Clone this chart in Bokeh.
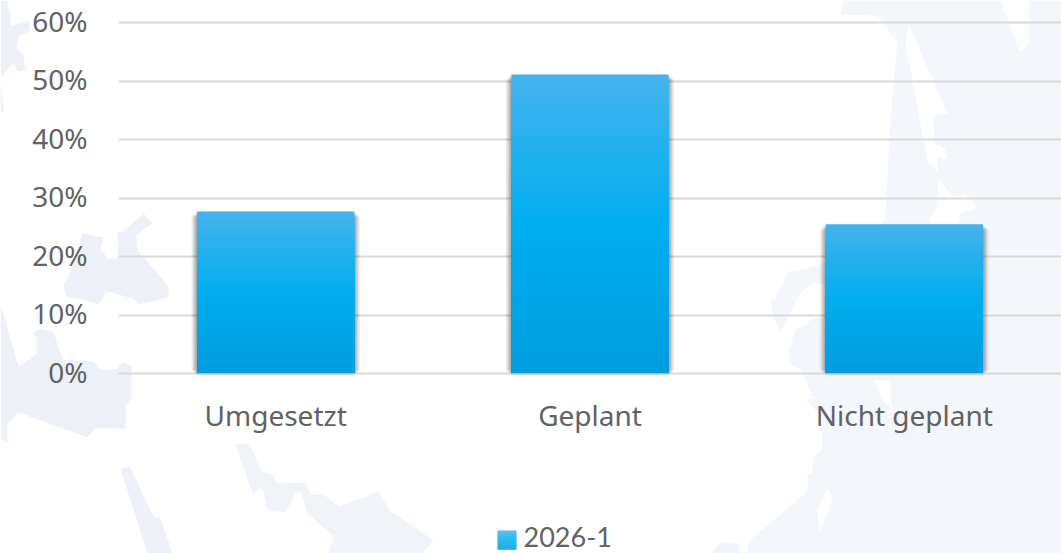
from bokeh.plotting import figure
from bokeh.models import Range1d, FixedTicker, PolyAnnotation, Label
from bokeh.embed import file_html
from bokeh.resources import INLINE

categories = ["Umgesetzt", "Geplant", "Nicht geplant"]
series_name = "2026-1"
series_values = [27.7, 51.1, 25.5]
y_ticks = [0, 10, 20, 30, 40, 50, 60]

FONT = "Noto Sans"
LEGEND_FONT = "Lato"
TEXT = "#626262"
W, H = 1061, 553
PLOT_L, PLOT_T, PLOT_B = 118, 22, 373   # pixel box of the value area

# faint decorative map behind the chart (canvas pixels)
map_left = [
    [(0,0),(7,0),(11,25),(30,20),(28,32),(18,35),(16,48),(23,55),(25,70),(17,71),(13,62),(0,78),(3,112),(0,112)],
    [(68,276),(82,233),(103,237),(100,248),(107,258),(117,258),(117,232),(124,230),(143,213),(152,223),(136,235),(137,250),(160,276),
     (168,286),(168,297),(138,304),(132,298),(107,291),(97,304),(87,300),(65,296),(63,284)],
    [(0,303),(18,366),(36,354),(36,336),(32,334),(38,328),(53,331),(62,359),(93,361),(100,369),(115,369),(122,362),(131,365),
     (131,399),(125,406),(125,428),(95,428),(87,437),(18,412),(7,424),(7,443),(0,438)],
    [(120,469),(129,465),(153,516),(160,518),(172,553),(147,553)],
]
map_mid = [
    [(234,443),(249,444),(262,471),(272,474),(277,483),(305,482),(310,493),(323,494),(339,506),(378,491),(390,511),(400,517),
     (433,540),(422,553),(328,553),(333,536),(307,513),(300,491),(295,493),(285,512),(267,510),(263,491),(258,488),(253,496)],
    [(712,553),(719,542),(739,543),(739,553)],
]
map_right = [
    [(843,0),(840,14),(877,15),(897,42),(893,80),(884,217),(880,226),(830,226),(830,316),(812,318),(803,326),(795,329),(788,351),
     (790,364),(800,369),(813,398),(805,399),(821,416),(821,449),(812,458),(812,473),(807,474),(807,491),(748,541),(747,553),
     (1061,553),(1061,0)],
    [(788,271),(799,270),(826,262),(826,283),(813,283),(805,288),(797,298),(780,333),(772,313),(770,299),(775,298)],
]
map_holes = [
    [(908,23),(905,42),(927,160),(938,173),(937,157),(947,159),(944,148),(933,143),(933,115),(947,113)],
    [(938,178),(953,197),(965,193),(977,208),(959,213),(958,224),(929,224),(930,217),(937,207)],
    [(1000,0),(1020,52),(1028,43),(1028,0)],
    [(873,379),(890,381),(891,408),(882,399)],
    [(827,488),(832,499),(819,533),(817,509)],
]

n = len(categories)
px_per_cat = (W - PLOT_L) / n
px_per_val = (PLOT_B - PLOT_T) / 60
x_pos = [i + 0.5 for i in range(n)]

p = figure(
    width=W, height=H,
    x_range=Range1d(-PLOT_L / px_per_cat, n),
    y_range=Range1d(-(H - PLOT_B) / px_per_val, 60 + PLOT_T / px_per_val),
    output_backend="svg", toolbar_location=None, min_border=0,
    background_fill_color="white", border_fill_color="white", outline_line_color=None,
)
p.styles = {"position": "absolute", "left": "0px", "top": "0px"}

for shapes, col in ((map_left, "#edf1f7"), (map_mid, "#f0f3f8"), (map_right, "#f3f6fa"), (map_holes, "#ffffff")):
    for s in shapes:
        p.add_layout(PolyAnnotation(xs=[c[0] for c in s], ys=[c[1] for c in s], xs_units="canvas", ys_units="canvas",
                                    fill_color=col, fill_alpha=1, line_alpha=0, level="image"))

BAR_W = 0.5
FOOT = 0.17   # the bars stop just above the zero line
# soft shadow at the sides and foot of the bars
for lw in (11, 8, 6, 4, 2):
    p.vbar(x=x_pos, bottom=0.6, top=[v - 0.95 for v in series_values], width=BAR_W, fill_alpha=0,
           line_color="#000000", line_alpha=0.08, line_width=lw)

# vertical gradient: overlapping bars from full height down to zero
STOPS = [(0.0, (0x00, 0x9d, 0xdf)), (0.5, (0x00, 0xae, 0xef)), (1.0, (0x46, 0xb3, 0xed))]
def shade(t):
    for (a, ca), (b, cb) in zip(STOPS, STOPS[1:]):
        if t <= b:
            f = (t - a) / (b - a)
            return "#%02x%02x%02x" % tuple(round(u + (v - u) * f) for u, v in zip(ca, cb))
    return "#46b3ed"
N = 60
for i in range(N, 0, -1):
    t = i / N
    p.vbar(x=x_pos, bottom=FOOT, top=[v * t for v in series_values], width=BAR_W, fill_color=shade(t - 0.5 / N), line_color=None)

LABEL_LIFT = 0.3   # small upward nudge of the y labels against their grid lines
y_label_pos = [t + LABEL_LIFT for t in y_ticks]
p.xaxis.fixed_location = 0
p.yaxis.fixed_location = 0
p.xaxis.ticker = FixedTicker(ticks=x_pos)
p.xaxis.major_label_overrides = {x: c for x, c in zip(x_pos, categories)}
p.yaxis.ticker = FixedTicker(ticks=y_label_pos)
p.yaxis.major_label_overrides = {y: f"{t}%" for y, t in zip(y_label_pos, y_ticks)}
p.xgrid.visible = False
p.ygrid.ticker = FixedTicker(ticks=y_ticks)
p.ygrid.grid_line_color = "#d9d9d9"
p.ygrid.grid_line_width = 2
p.ygrid.cross_bounds = (0, n)
for ax in (p.xaxis[0], p.yaxis[0]):
    ax.axis_line_color = None
    ax.major_tick_line_color = None
    ax.minor_tick_line_color = None
    ax.major_tick_out = 0
    ax.major_tick_in = 0
    ax.major_label_text_font = FONT
    ax.major_label_text_font_size = "28px"
    ax.major_label_text_color = TEXT
p.yaxis.major_label_standoff = 31
p.xaxis.major_label_standoff = 22

# legend: gradient key and its label
KEY_L, KEY_R, KEY_T, KEY_B = 497, 516, 530, 549
for y in range(KEY_T, KEY_B):
    t = (KEY_B - y - 0.5) / (KEY_B - KEY_T)
    p.add_layout(PolyAnnotation(xs=[KEY_L, KEY_R, KEY_R, KEY_L], ys=[y, y, y + 1.2, y + 1.2], xs_units="canvas", ys_units="canvas",
                                fill_color=shade(t), fill_alpha=1, line_alpha=0))
p.add_layout(Label(x=523, y=536, x_units="canvas", y_units="canvas", text=series_name, text_font=LEGEND_FONT, text_font_size="27px",
                   text_color=TEXT, text_baseline="middle", text_align="left"))

open("out.html", "w").write(file_html(p, INLINE))
